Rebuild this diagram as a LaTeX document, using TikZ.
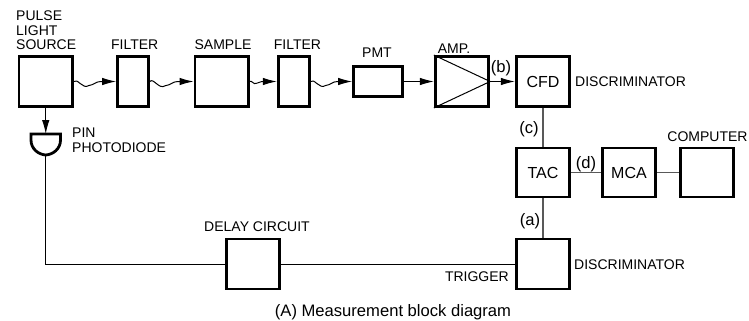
\documentclass[tikz,border=0pt]{standalone}
\usepackage{fontspec}
\setmainfont{Liberation Sans}
\usetikzlibrary{calc,arrows.meta}
\def\lightlink[#1](#2)(#3){\draw[wire,arrow] (#2.east) .. controls +(#1*0.12,-#1*0.15) and +(-#1*0.22,#1*0.16) .. ($(#2.east)+(#1*0.55,#1*0.15)$) .. controls +(#1*0.2,-#1*0.02) and +(-#1*0.2,0) .. ($(#2.east)+(#1,0)$) -- (#3.west);}
\tikzset{
	wire/.style={line width=1pt,black},
	graywire/.style={line width=1.3pt,black!65},
	arrow/.style={-{Latex[length=14pt,width=7.5pt]}},
	blockbox/.style={draw,line width=2.8pt,minimum width=53.5pt,minimum height=50pt,inner sep=0pt,font=\fontsize{16}{16}\selectfont},
	narrowbox/.style={blockbox,minimum width=31pt},
	tag/.style={inner sep=0pt,font=\fontsize{14}{14.5}\selectfont},
	mark label/.style={inner sep=0pt,font=\fontsize{16.6}{16.6}\selectfont}
}

\begin{document}
\begin{tikzpicture}[x=1pt,y=-1pt]
			\useasboundingbox (0,0) rectangle (749,321);
			%%%%% BLOCKS %%%%%
			\node[blockbox] (source) at (45.75, 81.5) {};
			\node[narrowbox] (filterA) at (133, 81.5) {};
			\node[blockbox] (sample) at (221.7, 81.5) {};
			\node[narrowbox] (filterB) at (293.7, 81.5) {};
			\node[blockbox,minimum width=49pt,minimum height=30pt] (pmt) at (378, 81.5) {};
			\node[blockbox] (amp) at (462, 81.5) {};
			\node[blockbox] (cfd) at (543, 81.5) {CFD};
			\node[blockbox,minimum height=49pt] (tac) at (543, 172.5) {TAC};
			\node[blockbox,minimum height=49pt] (mca) at (629, 172.5) {MCA};
			\node[blockbox,minimum height=49pt] (computer) at (707, 172.5) {};
			\node[blockbox] (trigdisc) at (543, 264) {};
			\node[blockbox] (delay) at (253, 264) {};
			
			%%%%% AMPLIFIER SYMBOL %%%%%
			\draw[wire] (amp.north west) -- (amp.east) -- (amp.south west);
			
			%%%%% PHOTODIODE %%%%%
			\coordinate (diodetop) at (45.75, 134);
			\coordinate (diodebot) at (45.75, 155);
			\draw[line width=2.8pt] (31, 134) -- (60.5, 134) -- (60.5, 140) .. controls (60.5, 149) and (53, 154.5) .. (diodebot) .. controls (38.5, 154.5) and (31, 149) .. (31, 140) -- cycle;
			
			%%%%% CONNECTORS %%%%%
			\lightlink[27](source)(filterA);
			\lightlink[28](filterA)(sample);
			\lightlink[12](sample)(filterB);
			\lightlink[27](filterB)(pmt);
			\draw[wire,arrow] (source) -- (diodetop);
			\draw[wire,arrow] (pmt) -- (amp);
			\draw[wire,arrow] (amp) -- (cfd);
			\draw[graywire] (cfd) -- (tac);
			\draw[graywire] (tac) -- (mca);
			\draw[graywire] (mca) -- (computer);
			\draw[graywire] (tac) -- (trigdisc);
			\draw[wire] (diodebot) |- (delay);
			\draw[wire] (delay) -- (trigdisc);
			
			%%%%% LABELS %%%%%
			\node[tag,anchor=base west,align=left] (sourcelabel) at (16, 50) {PULSE\\LIGHT\\SOURCE};
			\node[tag,anchor=base] (filterAlabel) at (134.7, 50) {FILTER};
			\node[tag,anchor=base] (samplelabel) at (223, 49) {SAMPLE};
			\node[tag,anchor=base] (filterBlabel) at (297.5, 49) {FILTER};
			\node[tag,anchor=base] (pmtlabel) at (377, 57) {PMT};
			\node[tag,anchor=base] (amplabel) at (454, 53) {AMP.};
			\node[tag,anchor=base west,align=left] (diodelabel) at (72, 152) {PIN\\PHOTODIODE};
			\node[tag,anchor=base west] (cfdlabel) at (575, 86) {DISCRIMINATOR};
			\node[tag,anchor=base west] (triglabel) at (574, 269) {DISCRIMINATOR};
			\node[tag,anchor=base] (computerlabel) at (707.5, 141) {COMPUTER};
			\node[tag,anchor=base] (delaylabel) at (257, 231) {DELAY CIRCUIT};
			\node[tag,anchor=base east] (triggerlabel) at (509, 281) {TRIGGER};
			\node[mark label,anchor=base] (marka) at (530, 225) {(a)};
			\node[mark label,anchor=base] (markb) at (501, 73) {(b)};
			\node[mark label,anchor=base] (markc) at (529, 133) {(c)};
			\node[mark label,anchor=base] (markd) at (586, 168) {(d)};
			\node[mark label,anchor=base] (caption) at (393, 316) {(A) Measurement block diagram};
\end{tikzpicture}
\end{document}
